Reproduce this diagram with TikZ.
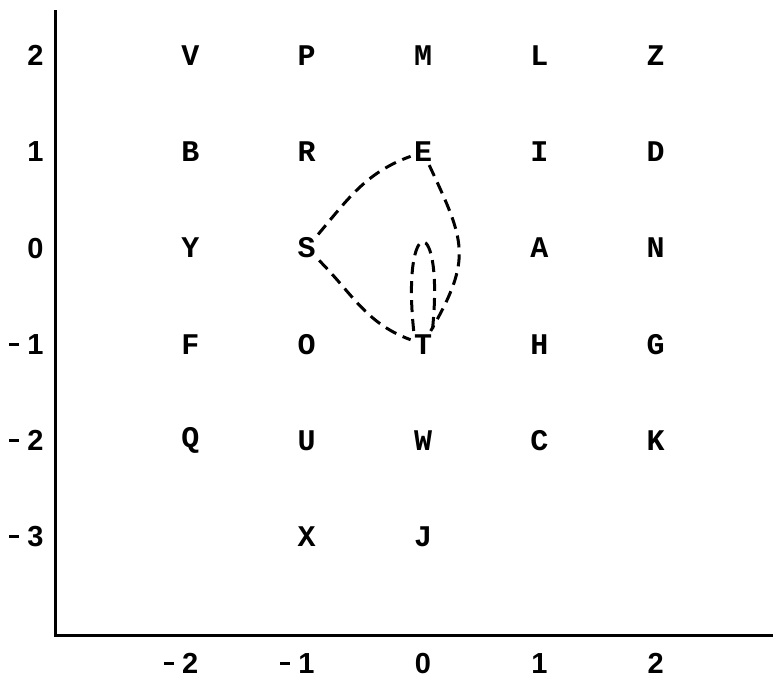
\documentclass[tikz,border=0pt]{standalone}
\usepackage{fontspec}
\setmainfont{Liberation Sans}
\newfontfamily\gridfont{Liberation Mono}
\newcommand{\mn}{\rule[4.3pt]{5pt}{1.5pt}\hspace{4pt}}
\usetikzlibrary{positioning}

\begin{document}
\begin{tikzpicture}[
  x=58.15pt, y=48.1pt,
  letter/.style={font=\gridfont\bfseries\fontsize{15}{15}\selectfont, inner sep=1.5pt},
  ytick/.style={font=\bfseries\fontsize{14.5}{14.5}\selectfont, anchor=east, inner sep=0pt},
  xtick/.style={font=\bfseries\fontsize{14.5}{14.5}\selectfont, inner sep=0pt},
  axis/.style={line width=1.5pt},
  link/.style={line width=1.5pt, dash pattern=on 6pt off 3.5pt}
]
\useasboundingbox (-3.637,-4.459) rectangle (3.009,2.578);

\coordinate (ytop)   at (-3.156,2.474);
\coordinate (origin) at (-3.156,-4.023);
\coordinate (xend)   at (3.009,-4.023);
\draw[axis] (ytop) -- (origin) -- (xend);

\node[ytick] (y2)  at (-3.26,2)  {2};
\node[ytick] (y1)  at (-3.26,1)  {1};
\node[ytick] (y0)  at (-3.26,0)  {0};
\node[ytick] (ym1) at (-3.26,-1) {\mn1};
\node[ytick] (ym2) at (-3.26,-2) {\mn2};
\node[ytick] (ym3) at (-3.26,-3) {\mn3};

\node[xtick] (xm2) at (-2.08,-4.32) {\mn2};
\node[xtick] (xm1) at (-1.08,-4.32) {\mn1};
\node[xtick] (x0)  at (0,-4.32)     {0};
\node[xtick] (x1)  at (1,-4.32)     {1};
\node[xtick] (x2)  at (2,-4.32)     {2};

\node[letter] (V) at (-2,2) {V};
\node[letter] (P) at (-1,2) {P};
\node[letter] (M) at (0,2)  {M};
\node[letter] (L) at (1,2)  {L};
\node[letter] (Z) at (2,2)  {Z};

\node[letter] (B) at (-2,1) {B};
\node[letter] (R) at (-1,1) {R};
\node[letter] (E) at (0,1)  {E};
\node[letter] (I) at (1,1)  {I};
\node[letter] (D) at (2,1)  {D};

\node[letter] (Y) at (-2,0) {Y};
\node[letter] (S) at (-1,0) {S};
\node[letter] (A) at (1,0)  {A};
\node[letter] (N) at (2,0)  {N};

\node[letter] (F) at (-2,-1) {F};
\node[letter] (O) at (-1,-1) {O};
\node[letter] (T) at (0,-1)  {T};
\node[letter] (H) at (1,-1)  {H};
\node[letter] (G) at (2,-1)  {G};

\node[letter] (Q) at (-2,-2) {Q};
\node[letter] (U) at (-1,-2) {U};
\node[letter] (W) at (0,-2)  {W};
\node[letter] (C) at (1,-2)  {C};
\node[letter] (K) at (2,-2)  {K};

\node[letter] (X) at (-1,-3) {X};
\node[letter] (J) at (0,-3)  {J};

\draw[link] (S) to[out=50, in=200] (E);
\draw[link] (S) to[out=-45, in=160] (T);
\draw[link] (E) to[out=-65, in=60, looseness=1.3] (T);
\draw[link] (T.125) .. controls +(96:2.1cm) and +(84:2.1cm) .. (T.55);

\end{tikzpicture}
\end{document}
